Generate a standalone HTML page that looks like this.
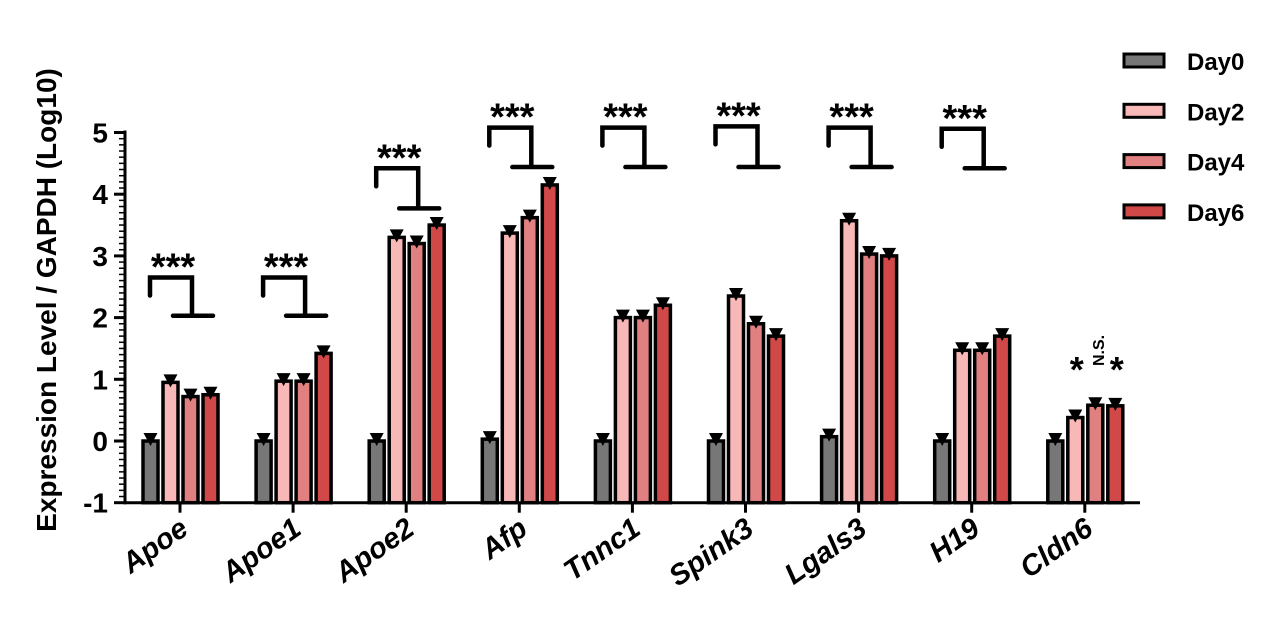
<!DOCTYPE html>
<html><head><meta charset="utf-8"><style>
html,body{margin:0;padding:0;background:#fff;}
svg{display:block;font-family:"Liberation Sans",Arial,sans-serif;}
</style></head><body>
<svg id="chart" width="1274" height="622" viewBox="0 0 1274 622" xmlns="http://www.w3.org/2000/svg">
<g id="plot"></g>
</svg>
<script>
const genes = ["Apoe","Apoe1","Apoe2","Afp","Tnnc1","Spink3","Lgals3","H19","Cldn6"];
const day0 = [0, 0, 0, 0.03, 0, 0, 0.07, 0, 0];
const day2 = [0.95, 0.97, 3.3, 3.37, 2.0, 2.35, 3.57, 1.47, 0.38];
const day4 = [0.72, 0.97, 3.2, 3.62, 2.0, 1.9, 3.03, 1.47, 0.58];
const day6 = [0.75, 1.42, 3.5, 4.15, 2.2, 1.7, 3.0, 1.7, 0.57];
const seriesNames = ["Day0","Day2","Day4","Day6"];
const yTicks = [-1,0,1,2,3,4,5];
const bracketTop = [2.65, 2.65, 4.42, 5.08, 5.08, 5.1, 5.08, 5.06, null];
const bracketBottom = [2.03, 2.03, 3.77, 4.44, 4.44, 4.44, 4.44, 4.42, null];
const sig = ["***","***","***","***","***","***","***","***",null];

const colors = ["#777777","#f9b8b8","#e08080","#d04848"];
const NS = "http://www.w3.org/2000/svg";
const g = document.getElementById('plot');
function y(v){ return 441 - v*61.7; }
function xc(i){ return 180 + i*113.1; }
function mk(tag, attrs, parent){ const e=document.createElementNS(NS,tag); for(const k in attrs) e.setAttribute(k,attrs[k]); (parent||g).appendChild(e); return e; }

const ax = mk('line',{x1:125,y1:y(5)-2,x2:125,y2:y(-1)+1.5,stroke:'#000','stroke-width':3});


const bx = mk('line',{x1:123.5,y1:y(-1),x2:1140,y2:y(-1),stroke:'#000','stroke-width':3});


for(let v=-1; v<=5.001; v+=0.1){
  const major = Math.abs(v-Math.round(v))<0.01;
  const t = mk('line',{x1:major?114:119,y1:y(v),x2:125,y2:y(v),stroke:'#000','stroke-width':major?3:1.5});
  
  
}
yTicks.forEach(v=>{
  const t = mk('text',{x:108,y:y(v)+10,'text-anchor':'end','font-size':28,'font-weight':'bold'});
  t.textContent = v;
  
  
});
const yl = mk('text',{x:0,y:0,transform:'translate(56,300) rotate(-90)','text-anchor':'middle','font-size':28,'font-weight':'bold'});
yl.textContent = 'Expression Level / GAPDH (Log10)';



const series = [day0,day2,day4,day6];
genes.forEach((gn,i)=>{
  const c = xc(i);
  const tk = mk('line',{x1:c,y1:y(-1),x2:c,y2:y(-1)+10,stroke:'#000','stroke-width':3});
  
  
  const lb = mk('text',{x:0,y:0,transform:`translate(${c+10},${y(-1)+30}) rotate(-35)`,'text-anchor':'end','font-size':29,'font-weight':'bold','font-style':'italic'});
  lb.textContent = gn;
  
  
  series.forEach((s,k)=>{
    const bxl = c - 37 + k*20;
    const top = y(Math.max(s[i],0));
    const r = mk('rect',{x:bxl,y:top,width:15,height:y(-1)-top,fill:colors[k],stroke:'#000','stroke-width':3.5});
    
    
    const vy = y(s[i]); const mx = bxl+7.5;
    const p = mk('path',{d:`M${mx-7},${vy-8} L${mx+7},${vy-8} L${mx},${vy+5} Z`,fill:'#000'});
    
    
  });
  if(bracketTop[i]!==null){
    const t = y(bracketTop[i]), b = y(bracketBottom[i]);
    const lx = c-30, rx = c+12;
    const br = mk('path',{d:`M${lx},${t+18} L${lx},${t} L${rx},${t} L${rx},${b} M${c-7},${b} L${c+33},${b}`,fill:'none',stroke:'#000','stroke-width':4.5,'stroke-linecap':'round'});
    
    
    const st = mk('text',{x:c-7,y:t+2,'text-anchor':'middle','font-size':38,'font-weight':'bold'});
    st.textContent = sig[i];
    
    
  }
});
const cc = xc(8);
[[cc-8,'*'],[cc+32,'*']].forEach(([xx,s])=>{
  const t = mk('text',{x:xx,y:382,'text-anchor':'middle','font-size':36,'font-weight':'bold'});
  t.textContent = s;
  
  
});
const nsT = mk('text',{x:0,y:0,transform:`translate(${cc+19},366) rotate(-90)`,'text-anchor':'start','font-size':16,'font-weight':'bold'});
nsT.textContent = 'N.S.';



seriesNames.forEach((n,k)=>{
  const yy = 54 + k*50.3;
  const r = mk('rect',{x:1124,y:yy,width:40,height:13,fill:colors[k],stroke:'#000','stroke-width':3});
  
  
  const t = mk('text',{x:1187,y:yy+16,'font-size':24,'font-weight':'bold'});
  t.textContent = n;
  
  
});
</script>
</body></html>
